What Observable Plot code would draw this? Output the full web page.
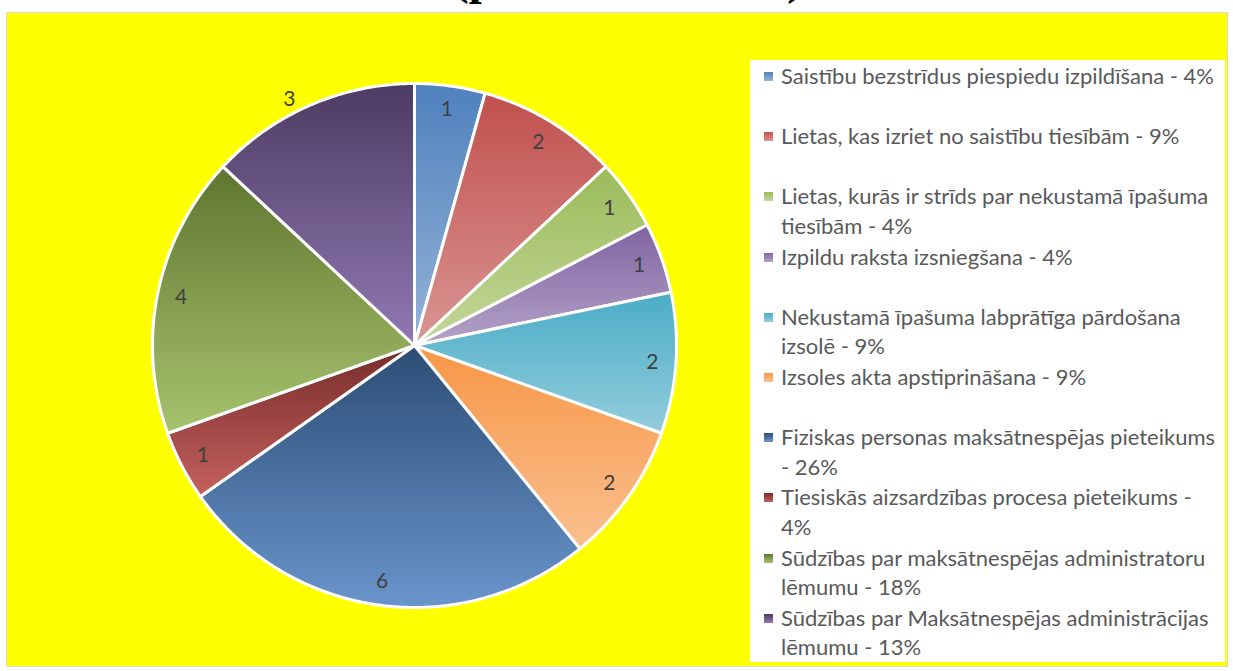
<!DOCTYPE html>
<html>
<head>
<meta charset="utf-8">
<script src="https://cdn.jsdelivr.net/npm/d3@7"></script>
<script src="https://cdn.jsdelivr.net/npm/@observablehq/plot@0.6"></script>
<style>
  html, body { margin: 0; padding: 0; background: #ffffff; }
  #page { position: relative; width: 1233px; height: 671px; overflow: hidden; }
  #title { position: absolute; left: 0; width: 1256px; top: -45px; text-align: center;
           font-family: "Liberation Serif", "DejaVu Serif", serif; font-weight: bold;
           font-size: 47px; line-height: 1; color: #000; white-space: nowrap; }
  #box { position: absolute; left: 6px; top: 12px; width: 1222px; height: 655px;
         box-sizing: border-box; background: #ffff00; border: 1px solid #d9d9d9; }
  #legend { position: absolute; left: 750px; top: 60px; width: 475px; height: 602px; background: #ffffff; }
  .item { position: absolute; left: 0; width: 475px; }
  .sw { position: absolute; left: 14px; top: 11px; width: 9px; height: 9px; }
  .lt { position: absolute; left: 31px; top: 0; white-space: pre; font-family: Lato, "Open Sans", sans-serif;
        font-size: 22px; line-height: 29.5px; color: #595959; }
  #chart { position: absolute; left: 0; top: 0; }
</style>
</head>
<body>
<div id="page">
  <div id="title"></div>
  <div id="box"></div>
  <div id="legend"></div>
  <div id="chart"></div>
</div>
<script>
const titleText = "(pa lietu veidiem)";

const categories = [
  "Saistību bezstrīdus piespiedu izpildīšana",
  "Lietas, kas izriet no saistību tiesībām",
  "Lietas, kurās ir strīds par nekustamā īpašuma tiesībām",
  "Izpildu raksta izsniegšana",
  "Nekustamā īpašuma labprātīga pārdošana izsolē",
  "Izsoles akta apstiprināšana",
  "Fiziskas personas maksātnespējas pieteikums",
  "Tiesiskās aizsardzības procesa pieteikums",
  "Sūdzības par maksātnespējas administratoru lēmumu",
  "Sūdzības par Maksātnespējas administrācijas lēmumu"
];
const values = [1, 2, 1, 1, 2, 2, 6, 1, 4, 3];
const legendLabels = [
  "Saistību bezstrīdus piespiedu izpildīšana - 4%",
  "Lietas, kas izriet no saistību tiesībām - 9%",
  "Lietas, kurās ir strīds par nekustamā īpašuma\ntiesībām - 4%",
  "Izpildu raksta izsniegšana - 4%",
  "Nekustamā īpašuma labprātīga pārdošana\nizsolē - 9%",
  "Izsoles akta apstiprināšana - 9%",
  "Fiziskas personas maksātnespējas pieteikums\n- 26%",
  "Tiesiskās aizsardzības procesa pieteikums -\n4%",
  "Sūdzības par maksātnespējas administratoru\nlēmumu - 18%",
  "Sūdzības par Maksātnespējas administrācijas\nlēmumu - 13%"
];
const topColors = ["#4F81BD", "#C0504D", "#9BBB59", "#8064A2", "#4BACC6", "#F79646", "#2C4D75", "#772C2A", "#5F7530", "#4D3B62"];
const bottomColors = ["#95B3D7", "#DA9694", "#C4D79B", "#B3A2C7", "#93CDDD", "#FAC090", "#6A95CC", "#C4615E", "#A7C36D", "#9079B3"];

document.getElementById("title").textContent = titleText;

// Pie geometry (unit circle, y pointing down on screen)
const total = d3.sum(values);
let cum = 0;
const slices = values.map((v, i) => {
  const a0 = cum / total * 2 * Math.PI;
  cum += v;
  const a1 = cum / total * 2 * Math.PI;
  const n = Math.max(2, Math.ceil((a1 - a0) / (Math.PI / 360)));
  const ring = [[0, 0]];
  for (let k = 0; k <= n; k++) {
    const a = a0 + (a1 - a0) * k / n;
    ring.push([Math.sin(a), -Math.cos(a)]);
  }
  ring.push([0, 0]);
  return {type: "Feature", properties: {name: categories[i], value: v, fill: `url(#sliceGrad${i})`, mid: (a0 + a1) / 2},
          geometry: {type: "Polygon", coordinates: [ring]}};
});

// labels: inside at 0.91 r; the last slice's label sits just outside the rim ("best fit")
const labelData = slices.map((s, i) => {
  const outside = i === slices.length - 1;
  const r = outside ? 1.055 : 0.91;
  const a = s.properties.mid - (outside ? 0.06 : 0);
  return {x: r * Math.sin(a), y: -r * Math.cos(a), label: String(values[i])};
});

const W = 1233, H = 671;
const pieInset = {top: 83, right: 557, bottom: 64, left: 152};
const svg = Plot.plot({
  width: W,
  height: H,
  margin: 0,
  insetTop: pieInset.top, insetRight: pieInset.right, insetBottom: pieInset.bottom, insetLeft: pieInset.left,
  style: {background: "transparent", overflow: "visible", fontFamily: "Lato, 'Open Sans', sans-serif"},
  color: {type: "identity"},
  projection: {
    type: "identity",
    domain: {type: "MultiPoint", coordinates: [[-1, -1], [1, 1]]},
    insetTop: pieInset.top, insetRight: pieInset.right, insetBottom: pieInset.bottom, insetLeft: pieInset.left
  },
  marks: [
    Plot.geo(slices, {fill: d => d.properties.fill, stroke: "#ffffff", strokeWidth: 3, strokeLinejoin: "round"}),
    Plot.text(labelData, {x: "x", y: "y", text: "label", fontSize: 21, fill: "#404040"})
  ]
});

const ns = "http://www.w3.org/2000/svg";
const defs = document.createElementNS(ns, "defs");
topColors.forEach((c, i) => {
  const g = document.createElementNS(ns, "linearGradient");
  g.setAttribute("id", `sliceGrad${i}`);
  g.setAttribute("x1", "0"); g.setAttribute("y1", "0");
  g.setAttribute("x2", "0"); g.setAttribute("y2", "1");
  const s0 = document.createElementNS(ns, "stop");
  s0.setAttribute("offset", "0"); s0.setAttribute("stop-color", c);
  const s1 = document.createElementNS(ns, "stop");
  s1.setAttribute("offset", "1"); s1.setAttribute("stop-color", bottomColors[i]);
  g.appendChild(s0); g.appendChild(s1);
  defs.appendChild(g);
});
svg.insertBefore(defs, svg.firstChild);
document.getElementById("chart").appendChild(svg);

// Legend
const legend = document.getElementById("legend");
legendLabels.forEach((t, i) => {
  const item = document.createElement("div");
  item.className = "item";
  item.style.top = (1 + 60.2 * i) + "px";
  const sw = document.createElement("div");
  sw.className = "sw";
  sw.style.background = `linear-gradient(${topColors[i]}, ${bottomColors[i]})`;
  const lt = document.createElement("div");
  lt.className = "lt";
  lt.textContent = t;
  item.appendChild(sw);
  item.appendChild(lt);
  legend.appendChild(item);
});
</script>
</body>
</html>
